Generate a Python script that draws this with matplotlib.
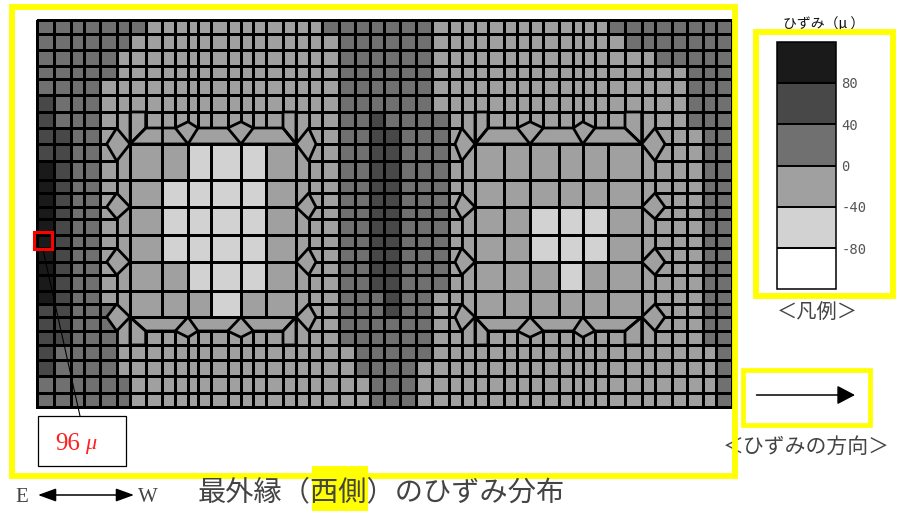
#Strain distribution on the outer edge, west side
import numpy as np
import matplotlib
matplotlib.use("Agg")
import matplotlib.pyplot as plt
from matplotlib.collections import PolyCollection
from matplotlib.colors import ListedColormap, BoundaryNorm
from matplotlib.patches import Rectangle

plt.rcParams['font.family'] = ['Noto Sans CJK JP', 'DejaVu Sans']

#mesh lines of the plate, measured in picture pixels
x_edges = [37.3, 54.3, 71, 84, 100, 116.7, 130, 145.7, 162, 175.3, 188, 198, 210.7,
           227.7, 241, 253.3, 266.3, 283, 296, 308.7, 321.7, 338.7, 355, 370, 384,
           400, 416, 432.3, 448.7, 461.7, 475, 488, 504.3, 517.3, 530, 543.3, 559,
           573.3, 582.7, 595, 608.3, 625, 641.7, 655, 671.7, 686.7, 703.3, 716, 731.7]
y_edges = [20, 34, 50, 66, 79, 95, 112, 128, 144, 161, 180, 193, 207, 219, 235, 248,
           262, 275, 291, 304, 317, 331, 345, 360, 376, 393, 407]

#strain band of every cell: 0 is the darkest band (80 to 120), 4 the lightest (-80 to -40)
cell_bands = [
    "22222223333333333333222" + "22223" + "333333333333" + "22222222",
    "22222233333333333333322" + "22223" + "333333333333" + "32222222",
    "22222333333333333333322" + "22223" + "333333333333" + "33322222",
    "22222333333333333333322" + "22223" + "333333333333" + "33333222",
    "22223333333333333333322" + "22223" + "333333333333" + "33333222",
    "12223333333333333333322" + "22223" + "333333333333" + "33333222",
    "12223333333333333333322" + "12222" + "333333333333" + "33333222",
    "11223333333333333333322" + "11222" + "333333333333" + "33333322",
    "11223333333333333333322" + "11222" + "333333333333" + "33333322",
    "01223333333333333333322" + "11222" + "333333333333" + "33333322",
    "01223333333333333333322" + "11222" + "333333333333" + "33333322",
    "01223333333333333333322" + "11222" + "333333333333" + "33333322",
    "01223333333333333333322" + "11222" + "333333333333" + "33333322",
    "01223333333333333333322" + "11222" + "333333333333" + "33333322",
    "01223333333333333333322" + "11222" + "333333333333" + "33333322",
    "01223333333333333333322" + "11222" + "333333333333" + "33333322",
    "01223333333333333333322" + "11222" + "333333333333" + "33333322",
    "01223333333333333333322" + "11222" + "333333333333" + "33333322",
    "01223333333333333333322" + "21223" + "333333333333" + "33333322",
    "11222333333333333333322" + "21223" + "333333333333" + "33333322",
    "11222333333333333333322" + "22223" + "333333333333" + "33333322",
    "11222333333333333333322" + "22223" + "333333333333" + "33333322",
    "12222333333333333333332" + "22223" + "333333333333" + "33333332",
    "12222333333333333333332" + "22233" + "333333333333" + "33333332",
    "22222233333333333333333" + "22233" + "333333333333" + "33333332",
    "22222233333333333333333" + "22233" + "333333333333" + "33333332",
]

#big cells round the two holes, same band code
left_panel_bands = ["334443", "344443", "344443", "344443", "334443", "333433"]
right_panel_bands = ["333333", "333333", "334443", "334443", "333433", "333333"]
panel_first_col = [5, 29]
side_tip_x = [[106.7, 316], [455, 665]]
top_tip_y = 121.7
bottom_tip_y = 337.3

band_limits = [-120, -80, -40, 0, 40, 80, 120]
band_colors = ["#ffffff", "#d2d2d2", "#a0a0a0", "#707070", "#484848", "#1a1a1a"]
band_ticks = [-80, -40, 0, 40, 80]
band_mid = {"0": 100, "1": 60, "2": 20, "3": -20, "4": -60}

peak_label = "96"
LINE = 2.0
YELLOW = "#ffff00"

cmap = ListedColormap(band_colors)
norm = BoundaryNorm(band_limits, cmap.N)


def to_strain(rows):
    return np.array([[band_mid[c] for c in row] for row in rows], dtype=float)


def add_cells(ax, polys, band, z):
    #fill first and outline after, so that a neighbour's fill cannot eat an edge
    fill = PolyCollection(polys, cmap=cmap, norm=norm, edgecolors="none", zorder=z)
    fill.set_array(np.full(len(polys), band_mid[band]))
    ax.add_collection(fill)
    ax.add_collection(PolyCollection(polys, facecolors="none", edgecolors="black",
                                     linewidths=LINE, zorder=z))


def draw_panel(ax, c, rows, tips):
    xs = x_edges
    ys = y_edges
    x0, x1, x2, x3, x4, x5 = xs[c], xs[c+1], xs[c+2], xs[c+12], xs[c+13], xs[c+14]
    ya, yb, yc, yd, ye, yf = ys[6], ys[7], ys[8], ys[20], ys[21], ys[22]

    #cover the fine mesh round the hole with the merged cells
    polys = [
        [(x1, ya), (x2, ya), (x2, yb), (x1, yc)],
        [(x2, yb), (x3, yb), (x4, yc), (x1, yc)],
        [(x3, ya), (x4, ya), (x4, yc), (x3, yb)],
        [(x1, yf), (x2, yf), (x2, ye), (x1, yd)],
        [(x2, ye), (x3, ye), (x4, yd), (x1, yd)],
        [(x3, yf), (x4, yf), (x4, yd), (x3, ye)],
    ]
    strip_rows = [6, 10, 14, 18, 22]
    for i in range(len(strip_rows) - 1):
        y1, y2 = ys[strip_rows[i]], ys[strip_rows[i+1]]
        polys.append([(x0, y1), (x1, y1), (x1, y2), (x0, y2)])
        polys.append([(x4, y1), (x5, y1), (x5, y2), (x4, y2)])
    add_cells(ax, polys, "3", 2)

    #six by six cells in the middle
    px = [xs[c + 1 + 2*i] for i in range(7)]
    py = [ys[8 + 2*i] for i in range(7)]
    ax.pcolormesh(px, py, to_strain(rows), cmap=cmap, norm=norm, edgecolors="black",
                  linewidth=LINE, zorder=3)

    #diamonds
    diamonds = []
    for r in [8, 12, 16, 20]:
        diamonds.append([(x0, ys[r-1]), (tips[0], ys[r]), (x0, ys[r+1]), (x1, ys[r])])
        diamonds.append([(x5, ys[r-1]), (tips[1], ys[r]), (x5, ys[r+1]), (x4, ys[r])])
    for k in [c + 4, c + 8]:
        diamonds.append([(xs[k], yb), (xs[k+1], top_tip_y), (xs[k+2], yb), (xs[k+1], yc)])
        diamonds.append([(xs[k], ye), (xs[k+1], bottom_tip_y), (xs[k+2], ye), (xs[k+1], yd)])
    add_cells(ax, diamonds, "3", 4)


fig = plt.figure(figsize=(9, 5.12), dpi=100)
ax = fig.add_axes([0, 0, 1, 1])
ax.set_xlim(0, 900)
ax.set_ylim(512, 0)
ax.axis("off")

mesh = ax.pcolormesh(x_edges, y_edges, to_strain(cell_bands), cmap=cmap, norm=norm,
                     edgecolors="black", linewidth=LINE, zorder=1)
draw_panel(ax, panel_first_col[0], left_panel_bands, side_tip_x[0])
draw_panel(ax, panel_first_col[1], right_panel_bands, side_tip_x[1])
#one extra line in the top ring of the left hole
ax.plot([x_edges[8], x_edges[8]], [y_edges[7], y_edges[8]], color="black", lw=LINE, zorder=3)

#yellow frames
for x, y, w, h, lw in [(12, 6.5, 723, 469.5, 4.2), (755.5, 32, 137.5, 264, 4.2), (743, 370, 126.5, 55, 3.4)]:
    ax.add_patch(Rectangle((x, y), w, h, fill=False, edgecolor=YELLOW, linewidth=lw, zorder=6))

#marker of the peak cell and its callout
ax.plot([43, 80], [250, 416], color="black", lw=0.8, zorder=7)
ax.add_patch(Rectangle((33.5, 232), 18.5, 17, fill=False, edgecolor="#ff0000", linewidth=2.2, zorder=8))
ax.add_patch(Rectangle((38, 415.5), 88, 50.5, facecolor="white", edgecolor="black", linewidth=0.9, zorder=8))
ax.text(55, 444, peak_label, color="#ff2020", fontsize=18, family="Liberation Serif",
        ha="left", va="center", zorder=9)
ax.text(85, 445, "\u03bc", color="#ff2020", fontsize=16, family="Liberation Serif", style="italic",
        ha="left", va="center", zorder=9)

#strain direction arrows
ax.annotate("", xy=(855, 395), xytext=(756.5, 395), zorder=9,
            arrowprops=dict(arrowstyle="-|>,head_length=0.55,head_width=0.29", color="black", lw=1.1,
                            shrinkA=0, shrinkB=0, mutation_scale=20))
ax.annotate("", xy=(134, 495), xytext=(38, 495), zorder=9,
            arrowprops=dict(arrowstyle="<|-|>,head_length=0.55,head_width=0.2", color="black", lw=1.1,
                            shrinkA=0, shrinkB=0, mutation_scale=20))

#texts
ink = "#444444"
ax.add_patch(Rectangle((311.5, 466), 56.5, 45, facecolor=YELLOW, edgecolor="none", zorder=7))
ax.text(381, 492, "最外縁（西側）のひずみ分布", fontsize=20.3, color=ink, ha="center", va="center", zorder=8)
ax.text(22, 498, "E", fontsize=15, family="Liberation Serif", color=ink, ha="center", va="center")
ax.text(147.5, 498, "W", fontsize=15, family="Liberation Serif", color=ink, ha="center", va="center")
ax.text(817, 312, "＜凡例＞", fontsize=14.6, color=ink, ha="center", va="center")
ax.text(806, 447, "＜ひずみの方向＞", fontsize=15, color=ink, ha="center", va="center", zorder=5)
ax.text(824, 23.5, "ひずみ（μ ）", fontsize=10, color="#111111", ha="center", va="center")

#legend colour bar
cax = fig.add_axes([776.7/900, 1 - 289.3/512, (836 - 776.7)/900, (289.3 - 41.7)/512])
cb = fig.colorbar(mesh, cax=cax, boundaries=band_limits, ticks=band_ticks, spacing="uniform", drawedges=True)
cb.minorticks_off()
cb.outline.set_linewidth(1.1)
cb.dividers.set_linewidth(1.4)
cb.ax.tick_params(which="both", length=0, pad=4)
cb.ax.set_yticklabels(["-80", "-40", "0", "40", "80"], family="DejaVu Sans Mono", fontsize=10, color="#555555")

fig.savefig("out.png", dpi=100)
